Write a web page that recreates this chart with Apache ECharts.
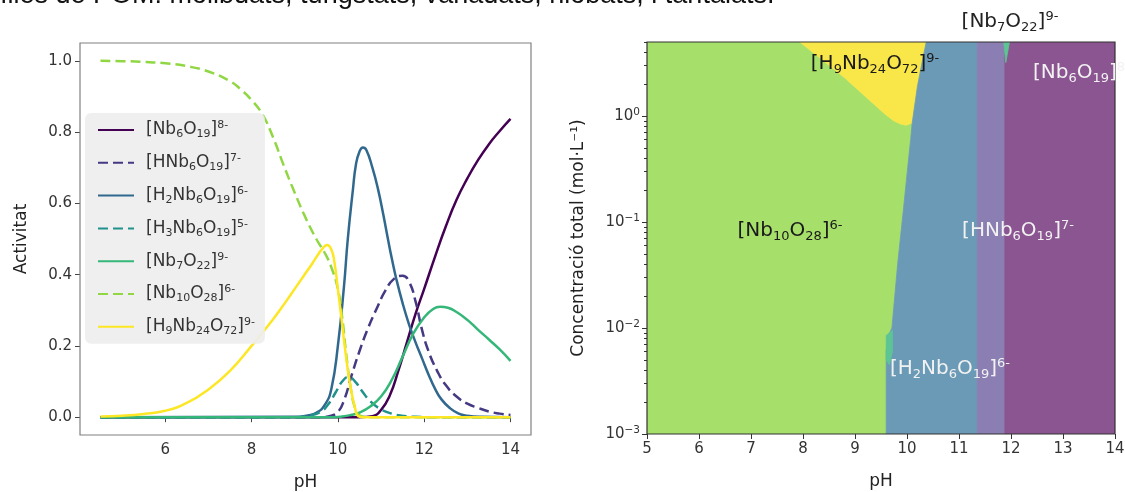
<!DOCTYPE html>
<html>
<head>
<meta charset="utf-8">
<script src="https://cdn.jsdelivr.net/npm/echarts@6/dist/echarts.min.js"></script>
<style>
html, body { margin: 0; padding: 0; background: #fff; }
#box { width: 1125px; height: 492px; }
</style>
</head>
<body>
<div id="box"></div>
<script>
// ---------- left panel: activitat vs pH ----------
let speciesNames = ['[Nb6O19]8-', '[HNb6O19]7-', '[H2Nb6O19]6-', '[H3Nb6O19]5-', '[Nb7O22]9-', '[Nb10O28]6-', '[H9Nb24O72]9-'];
let speciesRich = ['[Nb{s|6}O{s|19}]{p|8-}', '[HNb{s|6}O{s|19}]{p|7-}', '[H{s|2}Nb{s|6}O{s|19}]{p|6-}', '[H{s|3}Nb{s|6}O{s|19}]{p|5-}',
    '[Nb{s|7}O{s|22}]{p|9-}', '[Nb{s|10}O{s|28}]{p|6-}', '[H{s|9}Nb{s|24}O{s|72}]{p|9-}'];
let speciesColors = ['#440154', '#443983', '#31688e', '#21918c', '#35b779', '#90d743', '#fde725'];
let speciesDashed = [false, true, false, true, false, true, false];

let nb6o19 = [[4.5, 0], [10.5, 0], [10.8, 0.003], [11.0, 0.02], [11.2, 0.06], [11.4, 0.13], [11.6, 0.21], [11.8, 0.29], [12.0, 0.36],
    [12.25, 0.45], [12.5, 0.535], [12.75, 0.61], [13.0, 0.67], [13.25, 0.722], [13.5, 0.766], [13.75, 0.803], [14.0, 0.837]];
let hnb6o19 = [[4.5, 0], [9.6, 0], [9.8, 0.003], [10.0, 0.015], [10.15, 0.05], [10.3, 0.11], [10.5, 0.185], [10.7, 0.25], [10.9, 0.305],
    [11.1, 0.355], [11.3, 0.388], [11.5, 0.397], [11.65, 0.38], [11.8, 0.325], [11.95, 0.245], [12.1, 0.185], [12.3, 0.13],
    [12.5, 0.09], [12.75, 0.058], [13.0, 0.038], [13.25, 0.026], [13.5, 0.016], [13.75, 0.01], [14.0, 0.006]];
let h2nb6o19 = [[4.5, 0], [9.0, 0.001], [9.3, 0.005], [9.5, 0.012], [9.7, 0.035], [9.85, 0.08], [10.0, 0.2], [10.14, 0.365],
    [10.23, 0.5], [10.35, 0.64], [10.42, 0.71], [10.5, 0.745], [10.58, 0.757], [10.66, 0.75], [10.8, 0.7], [10.93, 0.64],
    [11.05, 0.57], [11.16, 0.5], [11.25, 0.445], [11.35, 0.39], [11.5, 0.32], [11.65, 0.26], [11.8, 0.21], [11.95, 0.165],
    [12.1, 0.12], [12.25, 0.08], [12.4, 0.05], [12.6, 0.025], [12.8, 0.01], [13.0, 0.004], [13.3, 0.001], [14.0, 0]];
let h3nb6o19 = [[4.5, 0], [9.0, 0], [9.3, 0.004], [9.6, 0.015], [9.8, 0.04], [9.95, 0.07], [10.1, 0.1], [10.25, 0.113], [10.4, 0.1],
    [10.55, 0.075], [10.75, 0.045], [11.0, 0.022], [11.25, 0.01], [11.5, 0.004], [11.8, 0.001], [12.2, 0], [14.0, 0]];
let nb7o22 = [[4.5, 0], [9.8, 0], [10.1, 0.002], [10.3, 0.006], [10.5, 0.013], [10.75, 0.03], [11.0, 0.058], [11.25, 0.105],
    [11.5, 0.17], [11.75, 0.235], [12.0, 0.28], [12.2, 0.303], [12.37, 0.31], [12.55, 0.307], [12.75, 0.295], [13.0, 0.273],
    [13.25, 0.245], [13.5, 0.218], [13.75, 0.19], [14.0, 0.158]];
let nb10o28 = [[4.5, 1.0], [5.0, 0.999], [5.5, 0.997], [6.0, 0.993], [6.5, 0.985], [7.0, 0.97], [7.5, 0.943], [7.75, 0.92],
    [8.0, 0.89], [8.25, 0.85], [8.5, 0.785], [8.75, 0.705], [9.0, 0.63], [9.25, 0.56], [9.5, 0.5], [9.7, 0.46], [9.85, 0.42], [10.0, 0.36],
    [10.1, 0.28], [10.2, 0.17], [10.3, 0.08], [10.4, 0.025], [10.5, 0.005], [10.7, 0], [14.0, 0]];
let h9nb24o72 = [[4.5, 0.002], [5.0, 0.004], [5.5, 0.009], [6.0, 0.018], [6.5, 0.04], [7.0, 0.078], [7.5, 0.13], [8.0, 0.2],
    [8.5, 0.275], [8.8, 0.325], [9.0, 0.36], [9.2, 0.395], [9.4, 0.43], [9.55, 0.458], [9.65, 0.474], [9.75, 0.483], [9.85, 0.47],
    [9.92, 0.435], [10.0, 0.36], [10.1, 0.26], [10.2, 0.16], [10.3, 0.08], [10.4, 0.025], [10.47, 0.003], [10.6, 0], [14.0, 0]];
let speciesData = [nb6o19, hnb6o19, h2nb6o19, h3nb6o19, nb7o22, nb10o28, h9nb24o72];

let phTicksLeft = [6, 8, 10, 12, 14];
let activityTicks = [0, 0.2, 0.4, 0.6, 0.8, 1.0];

// ---------- right panel: predominance diagram ----------
let greenBlueEdge = [[9.6, 0.001], [9.6, 0.006], [9.64, 0.0085], [9.71, 0.01], [9.82, 0.04], [9.93, 0.13], [10.02, 0.35], [10.07, 0.6], [10.1, 0.86]];
let yellowBottom = [[10.1, 0.86], [9.98, 0.82], [9.88, 0.84], [9.75, 0.9], [9.58, 1.04], [8.8, 2.3], [7.94, 5]];
let yellowRight = [[10.1, 0.86], [10.2, 1.9], [10.3, 3.4], [10.37, 5]];
let hnbLeftPh = 11.35;
let nb6LeftPh = 11.88;
let nb7TopSliver = [[11.86, 5], [11.97, 5], [11.9, 3.2]];
let nb7Spot = [[9.6, 0.0085], [9.72, 0.0095], [9.72, 0.006], [9.66, 0.0045], [9.6, 0.005]];
let concTicks = [0.001, 0.01, 0.1, 1];
let concMinorTicks = [0.002, 0.003, 0.004, 0.005, 0.006, 0.007, 0.008, 0.009, 0.02, 0.03, 0.04, 0.05, 0.06, 0.07, 0.08, 0.09,
    0.2, 0.3, 0.4, 0.5, 0.6, 0.7, 0.8, 0.9, 2, 3, 4, 5];

let regions = [
    { poly: [[5, 0.001]].concat(greenBlueEdge, yellowBottom.slice(1), [[5, 5]]), color: '#a6df6a' },
    { poly: yellowBottom.concat(yellowRight.slice().reverse()), color: '#f9e648' },
    { poly: greenBlueEdge.concat(yellowRight.slice(1), [[hnbLeftPh, 5], [hnbLeftPh, 0.001]]), color: '#6b9ab6' },
    { poly: [[hnbLeftPh, 0.001], [nb6LeftPh, 0.001], [nb6LeftPh, 5], [hnbLeftPh, 5]], color: '#8a7eb3' },
    { poly: [[nb6LeftPh, 0.001], [14, 0.001], [14, 5], [nb6LeftPh, 5]], color: '#8a5590' },
    { poly: nb7TopSliver, color: '#5dc594' },
    { poly: nb7Spot, color: '#5dc594' }
];

const FONT = 'DejaVu Sans';
let tickText = { fontFamily: FONT, fontSize: 15, color: '#333' };
let nameText = { fontFamily: FONT, fontSize: 17, color: '#222' };
function richFor(color, size) {
    return {
        s: { fontFamily: FONT, fontSize: size, lineHeight: size + 1, verticalAlign: 'bottom', color: color, fill: color },
        p: { fontFamily: FONT, fontSize: size, lineHeight: size + 1, verticalAlign: 'top', color: color, fill: color }
    };
}
function regionLabel(text, x, y, color, align) {
    return {
        type: 'text', x: x, y: y, silent: true, z: 20,
        style: { text: text, fontFamily: FONT, fontSize: 20, lineHeight: 24, fill: color,
            align: align || 'center', verticalAlign: 'middle', rich: richFor(color, 13) }
    };
}

let chart = echarts.init(document.getElementById('box'));

let lineSeries = speciesNames.map(function (name, i) {
    return {
        name: name,
        type: 'line',
        xAxisIndex: 0,
        yAxisIndex: 0,
        data: speciesData[i],
        symbol: 'none',
        smooth: 0.5,
        lineStyle: { color: speciesColors[i], width: 2.5, type: speciesDashed[i] ? [10, 5] : 'solid' },
        itemStyle: { color: speciesColors[i] }
    };
});

let option = {
    animation: false,
    backgroundColor: '#fff',
    grid: [
        { left: 80, top: 43, width: 451, height: 392, outerBoundsMode: 'none', show: true, borderColor: '#808080', borderWidth: 1.2, backgroundColor: 'transparent', z: 5 },
        { left: 647, top: 42, width: 468, height: 392, outerBoundsMode: 'none', show: true, borderColor: '#333', borderWidth: 1.2, backgroundColor: 'transparent', z: 5 }
    ],
    legend: {
        orient: 'vertical',
        left: 85,
        top: 113,
        padding: [7, 10, 7, 12],
        itemGap: 12.8,
        itemWidth: 36,
        itemHeight: 14,
        itemStyle: { opacity: 0 },
        backgroundColor: 'rgba(238,238,238,0.92)',
        borderRadius: 6,
        data: speciesNames,
        formatter: function (name) { return speciesRich[speciesNames.indexOf(name)]; },
        textStyle: { fontFamily: FONT, fontSize: 17, lineHeight: 20, color: '#333', padding: [0, 0, 0, 7], rich: richFor('#333', 11) }
    },
    xAxis: [
        {
            type: 'value', gridIndex: 0, min: 4.025, max: 14.475,
            name: 'pH', nameLocation: 'middle', nameGap: 39, nameTextStyle: nameText,
            axisLine: { show: false }, splitLine: { show: false },
            axisTick: { customValues: phTicksLeft, length: 5, lineStyle: { color: '#444' } },
            axisLabel: Object.assign({ customValues: phTicksLeft, margin: 8 }, tickText)
        },
        {
            type: 'value', gridIndex: 1, min: 5, max: 14, interval: 1,
            name: 'pH', nameLocation: 'middle', nameGap: 39, nameTextStyle: nameText,
            axisLine: { show: false }, splitLine: { show: false },
            axisTick: { length: 5, lineStyle: { color: '#333' } },
            axisLabel: Object.assign({ margin: 8, showMinLabel: true, showMaxLabel: true }, tickText)
        }
    ],
    yAxis: [
        {
            type: 'value', gridIndex: 0, min: -0.05, max: 1.05,
            name: 'Activitat', nameLocation: 'middle', nameGap: 50, nameTextStyle: nameText,
            axisLine: { show: false }, splitLine: { show: false },
            axisTick: { customValues: activityTicks, length: 5, lineStyle: { color: '#444' } },
            axisLabel: Object.assign({ customValues: activityTicks, margin: 8, formatter: function (v) { return v.toFixed(1); } }, tickText)
        },
        {
            type: 'log', logBase: 10, gridIndex: 1, min: 0.001, max: 5,
            name: 'Concentració total (mol·L⁻¹)', nameLocation: 'middle', nameGap: 60, nameTextStyle: nameText,
            axisLine: { show: false }, splitLine: { show: false },
            axisTick: { customValues: concTicks, length: 5, lineStyle: { color: '#333' } },
            axisLabel: Object.assign({
                customValues: concTicks, margin: 7, lineHeight: 18,
                formatter: function (v) {
                    let e = Math.round(Math.log10(v));
                    return '10{p|' + (e < 0 ? '−' + (-e) : e) + '}';
                },
                rich: { p: { fontFamily: FONT, fontSize: 10.5, lineHeight: 10, verticalAlign: 'top', color: '#333' } }
            }, tickText)
        },
        {
            type: 'log', logBase: 10, gridIndex: 1, min: 0.001, max: 5, position: 'left',
            axisLine: { show: false }, splitLine: { show: false },
            axisTick: { customValues: concMinorTicks, length: 3, lineStyle: { color: '#333' } },
            axisLabel: { show: false }
        }
    ],
    series: [
        {
            type: 'custom',
            xAxisIndex: 1,
            yAxisIndex: 1,
            silent: true,
            clip: true,
            data: regions.map(function (r) { return r.poly[0]; }),
            renderItem: function (params, api) {
                let reg = regions[params.dataIndex];
                let pts = reg.poly.map(function (p) { return api.coord(p); });
                return {
                    type: 'polygon',
                    shape: { points: pts },
                    style: { fill: reg.color, stroke: reg.color, lineWidth: 0.8 }
                };
            }
        }
    ].concat(lineSeries),
    graphic: [
        {
            type: 'text', x: -45, y: 9, silent: true,
            style: { text: 'famílies de POM: molibdats, tungstats, vanadats, niobats, i tantalats.',
                fontFamily: 'Liberation Sans', fontSize: 27, fill: '#111', align: 'left', verticalAlign: 'bottom' }
        },
        regionLabel('[Nb{s|7}O{s|22}]{p|9-}', 1010, 22, '#222'),
        regionLabel('[H{s|9}Nb{s|24}O{s|72}]{p|9-}', 875, 64, '#1a1a1a'),
        regionLabel('[Nb{s|6}O{s|19}]{p|8-}', 1033, 73, '#f2f2f2', 'left'),
        regionLabel('[Nb{s|10}O{s|28}]{p|6-}', 790, 231, '#1a1a1a'),
        regionLabel('[HNb{s|6}O{s|19}]{p|7-}', 1018, 231, '#f2f2f2'),
        regionLabel('[H{s|2}Nb{s|6}O{s|19}]{p|6-}', 950, 369, '#f2f2f2')
    ]
};
chart.setOption(option);
</script>
</body>
</html>
